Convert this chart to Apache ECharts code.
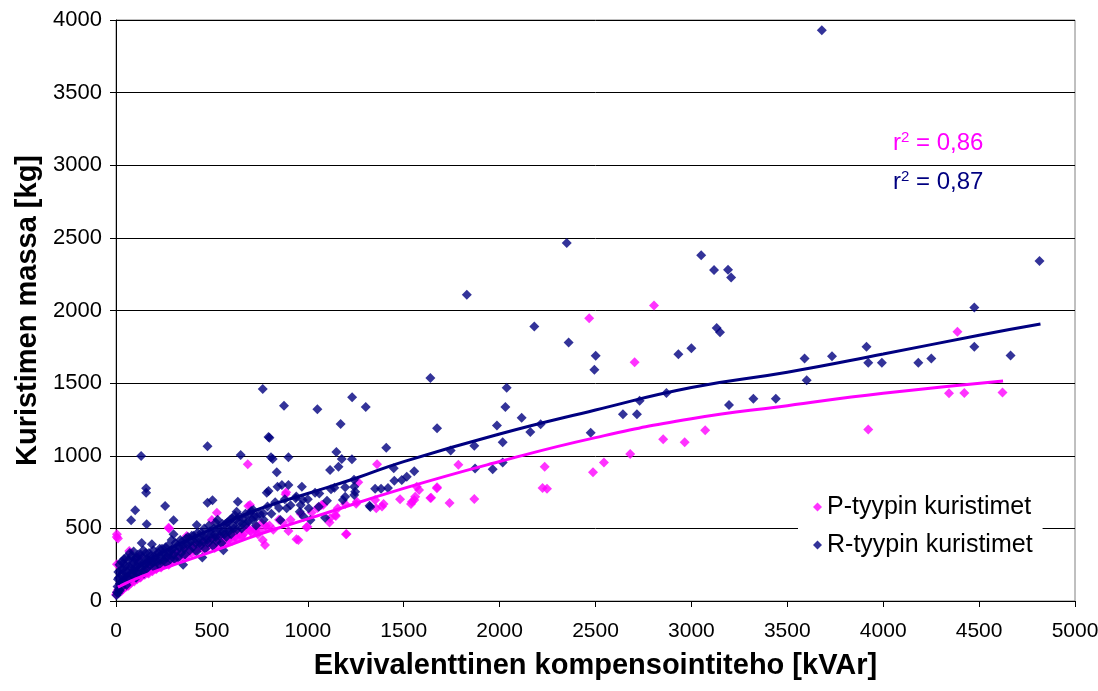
<!DOCTYPE html>
<html>
<head>
<meta charset="utf-8">
<script src="https://cdn.jsdelivr.net/npm/echarts@6/dist/echarts.min.js"></script>
<style>
html,body{margin:0;padding:0;background:#fff;}
#chart{width:1098px;height:691px;}
</style>
</head>
<body>
<div id="chart"></div>
<script>
// ---- Data ----
const seriesNames = ['P-tyypin kuristimet', 'R-tyypin kuristimet'];
const xTicks = [0, 500, 1000, 1500, 2000, 2500, 3000, 3500, 4000, 4500, 5000];
const yTicks = [0, 500, 1000, 1500, 2000, 2500, 3000, 3500, 4000];

// P-type (magenta) points [kVAr, kg]
const pPoints = [
  [2805,2035],[2467,1946],[2704,1643],[4387,1853],[4343,1430],[4423,1432],[4622,1435],[3922,1180],
  [3072,1175],[2965,1093],[2853,1113],[2681,1012],[2544,953],[2487,886],[2235,925],[2224,778],[2247,773],
  [1868,702],[1785,938],[1674,783],[1639,709],[1739,675],[1555,695],[1538,668],[1580,764],[1568,787],
  [1481,700],[1361,941],[1263,818],[1252,670],[1195,668],[1395,668],[1357,638],[1387,650],[1351,695],
  [1256,684],[1156,638],[1146,585],[1202,461],[1081,663],[1113,541],[1116,569],[1142,592],[998,512],
  [951,420],[899,482],[887,748],[884,735],[765,420],[777,386],[699,661],[690,654],[687,941],[526,608],
  [500,557],[277,500],[274,505],[369,448],[5,460],[10,430],[4,441],[69,345],[117,303],[5,253],[1072,661],
  [1643,711],[1673,776],[1560,718],[1543,684],
  [0,45],[5,60],[10,75],[15,55],[20,90],[25,110],[30,70],[40,95],[45,130],[50,115],[60,140],[65,105],
  [75,150],[80,125],[90,160],[95,135],[105,170],[110,150],[120,185],[130,165],[140,195],[150,180],
  [160,210],[170,190],[180,225],[190,205],[200,240],[210,218],[220,255],[235,230],[245,270],[250,253],
  [260,285],[275,250],[285,300],[295,270],[305,320],[315,290],[325,335],[340,300],[350,322],[360,350],
  [370,310],[385,367],[395,330],[410,345],[420,380],[440,367],[450,400],[460,350],[475,420],[485,380],
  [500,410],[515,365],[530,420],[545,390],[560,432],[575,400],[590,445],[605,415],[612,466],[630,435],
  [655,443],[670,470],[681,501],[700,480],[725,489],[740,460],[760,535],[786,501],[800,520],[820,490],
  [850,560],[870,540],[910,560],[941,425],[963,600],[993,507],[1020,610],[1050,640],[1199,459],
  [35,80],[55,100],[70,120],[85,140],[100,150],[115,175],[125,160],[135,180],[145,200],[165,195],
  [185,215],[195,230],[205,250],[225,240],[240,260],[255,275],[265,260],[280,280],[290,310],[300,300],
  [320,310],[330,320],[345,340],[355,315],[375,340],[390,360],[405,375],[425,355],[435,390],[455,380],
  [470,395],[490,400],[510,430],[520,395],[540,440],[555,410],[570,450],[585,420],[600,460],[620,440],
  [640,470],[660,455],[690,500],[710,470],[730,510],[750,480],[780,520]
];

// R-type (navy) points [kVAr, kg]
const rPoints = [
  [3680,3930],[4815,2341],[2350,2465],[1829,2108],[3051,2381],[3118,2278],[3191,2280],[3207,2227],
  [2181,1889],[2360,1780],[2501,1689],[2494,1592],[4475,2020],[3913,1750],[3922,1640],[3993,1640],
  [4183,1640],[4251,1670],[3590,1670],[3601,1520],[3733,1685],[4475,1750],[4664,1690],
  [3132,1880],[3149,1850],[2932,1699],[3000,1740],[2870,1432],[2730,1379],[2643,1285],[2716,1285],
  [3196,1349],[3323,1393],[3440,1393],[2475,1159],[2214,1217],[2160,1164],[2115,1262],[2037,1469],
  [2030,1336],[2016,1093],[2016,953],[1964,907],[1872,913],[1868,1069],[1986,1209],[1745,1037],
  [1674,1189],[1639,1535],[1516,856],[1555,893],[1490,833],[1451,828],[1409,1055],[1448,914],[1418,778],
  [1351,773],[1382,773],[1322,656],[1302,1336],[1231,1402],[1050,1320],[876,1345],[765,1460],[1171,1219],
  [1149,1026],[1177,978],[1230,976],[795,1129],[800,1124],[808,989],[817,978],[899,989],[1116,902],
  [1160,925],[838,886],[899,799],[969,787],[1038,746],[1139,780],[1195,783],[1242,787],[1247,753],
  [1242,730],[1195,718],[1183,695],[1090,573],[1014,558],[865,799],[842,787],[795,757],[890,638],
  [974,696],[1121,770],[1241,834],[1326,647],[857,558],[734,580],[768,604],[716,626],[958,615],
  [1005,638],[979,580],[1057,649],[937,707],[963,661],[477,1065],[650,1005],[131,998],[157,776],
  [157,745],[100,625],[79,556],[160,529],[256,654],[300,556],[300,460],[134,399],[187,390],[421,523],
  [477,677],[503,694],[635,684],[629,615],[786,746],
  [3,40],[10,55],[20,70],[5,60],[8,100],[10,150],[12,200],[15,80],[18,250],[20,120],[25,180],[28,270],
  [30,95],[35,220],[40,140],[42,290],[48,170],[50,240],[55,110],[60,200],[65,280],[70,150],[75,230],
  [80,310],[85,180],[90,260],[95,210],[100,290],[105,160],[110,240],[115,320],[120,200],[125,270],
  [130,230],[140,300],[145,190],[150,250],[155,330],[160,220],[170,280],[175,245],[180,310],[190,260],
  [195,350],[200,230],[205,300],[215,270],[220,330],[225,250],[235,300],[240,360],[250,280],[255,320],
  [265,300],[270,380],[280,340],[285,290],[295,360],[300,320],[310,400],[315,340],[325,300],[330,370],
  [340,330],[345,410],[355,360],[360,320],[370,390],[375,440],[385,350],[390,410],[400,370],[405,450],
  [415,400],[420,340],[430,430],[440,380],[445,470],[455,410],[465,360],[470,440],[480,400],[490,480],
  [500,430],[505,380],[515,460],[525,410],[535,500],[540,450],[550,400],[560,480],[570,530],[575,440],
  [585,500],[595,560],[600,460],[610,520],[620,590],[630,490],[640,540],[655,500],[665,570],[680,530],
  [695,600],[710,560],[730,520],[750,600],[770,560],[790,650],[810,600],[830,680],[850,640],[880,700],
  [910,660],[940,720],[1000,700],[1060,740],[1100,690],[290,420],[350,250],[450,300],[520,540],[560,350],
  [15,160],[22,210],[32,130],[38,260],[45,200],[52,300],[58,160],[68,240],[72,330],[78,190],[88,280],
  [92,340],[98,230],[108,300],[112,190],[118,260],[128,320],[135,250],[142,350],[148,210],[158,290],
  [165,260],[172,330],[185,290],[198,270],[210,320],[228,360],[232,280],[245,330],[258,370],[262,260],
  [275,320],[290,350],[305,290],[320,380],[335,420],[350,380],[365,430],[380,400],[395,450],[410,430],
  [425,470],[435,400],[450,450],[460,500],[475,420],[485,520],[495,460],[510,500],[520,440],[530,560],
  [545,480],[555,530],[565,460],[580,540],[590,480],[605,570],[615,500],[625,560],[645,580],[660,530],
  [675,600],[690,550],[705,620],[720,580]
];

// Trend lines
const pTrendX = [10, 100, 250, 500, 750, 1000, 1500, 2000, 2500, 3000, 3500, 4000, 4625];
const pTrendY = [95, 150, 225, 340, 460, 565, 775, 960, 1125, 1255, 1345, 1430, 1515];
const rTrendX = [10, 100, 250, 500, 750, 1000, 1250, 1500, 2000, 2500, 3000, 3500, 4000, 4500, 4820];
const rTrendY = [115, 220, 340, 495, 635, 740, 845, 960, 1150, 1315, 1470, 1575, 1700, 1830, 1907];

const r2Values = ['0,86', '0,87'];

// ---- Chart ----
const MAG = '#FF00FF', NAVY = '#000080';
const FONT = '"Liberation Sans", Arial, sans-serif';
const chart = echarts.init(document.getElementById('chart'), null, {renderer: 'canvas'});
const zip = (xs, ys) => xs.map((x, i) => [x, ys[i]]);
const r2Rich = (color) => ({
  a: {fontFamily: FONT, fontSize: 24, fill: color, color: color},
  s: {fontFamily: FONT, fontSize: 15, fill: color, color: color, padding: [0, 0, 12, 0]}
});

chart.setOption({
  animation: false,
  backgroundColor: '#fff',
  grid: {left: 116, right: 23, top: 20, bottom: 90, show: true, borderColor: '#808080', borderWidth: 1,
         backgroundColor: '#fff', containLabel: false, outerBoundsMode: 'none'},
  xAxis: {
    type: 'value', min: xTicks[0], max: xTicks[xTicks.length - 1], interval: 500,
    name: 'Ekvivalenttinen kompensointiteho [kVAr]', nameLocation: 'middle', nameGap: 50,
    nameTextStyle: {fontFamily: FONT, fontSize: 29, fontWeight: 'bold', color: '#000'},
    axisLine: {show: true, lineStyle: {color: '#000', width: 1}},
    axisTick: {show: true, inside: false, length: 6, lineStyle: {color: '#000'}},
    axisLabel: {fontFamily: FONT, fontSize: 21, color: '#000', margin: 20, formatter: v => String(v)},
    splitLine: {show: false}
  },
  yAxis: {
    type: 'value', min: yTicks[0], max: yTicks[yTicks.length - 1], interval: 500,
    name: 'Kuristimen massa [kg]', nameLocation: 'middle', nameGap: 66,
    nameTextStyle: {fontFamily: FONT, fontSize: 29, fontWeight: 'bold', color: '#000'},
    axisLine: {show: true, lineStyle: {color: '#000', width: 1}},
    axisTick: {show: true, inside: false, length: 6, lineStyle: {color: '#000'}},
    axisLabel: {fontFamily: FONT, fontSize: 22, color: '#000', margin: 14, formatter: v => String(v)},
    splitLine: {show: true, lineStyle: {color: '#000', width: 1}}
  },
  legend: {
    data: seriesNames, orient: 'vertical', left: 798, top: 489,
    padding: [3, 10, 3, 15], backgroundColor: '#fff',
    itemWidth: 9, itemHeight: 9, itemGap: 8,
    textStyle: {fontFamily: FONT, fontSize: 25, color: '#000', lineHeight: 30}
  },
  graphic: [
    {type: 'text', left: 893, top: 130, z: 100,
     style: {text: '{a|r}{s|2}{a| = ' + r2Values[0] + '}', fill: MAG, rich: r2Rich(MAG)}},
    {type: 'text', left: 893, top: 169, z: 100,
     style: {text: '{a|r}{s|2}{a| = ' + r2Values[1] + '}', fill: NAVY, rich: r2Rich(NAVY)}}
  ],
  series: [
    {name: seriesNames[0], type: 'scatter', symbol: 'diamond', symbolSize: 10, data: pPoints,
     itemStyle: {color: MAG}, z: 2},
    {name: seriesNames[1], type: 'scatter', symbol: 'diamond', symbolSize: 10, data: rPoints,
     itemStyle: {color: NAVY}, z: 3},
    {name: 'P-trend', type: 'line', smooth: true, symbol: 'none', data: zip(pTrendX, pTrendY),
     lineStyle: {color: MAG, width: 3}, z: 4},
    {name: 'R-trend', type: 'line', smooth: true, symbol: 'none', data: zip(rTrendX, rTrendY),
     lineStyle: {color: NAVY, width: 3}, z: 5}
  ]
});
</script>
</body>
</html>
